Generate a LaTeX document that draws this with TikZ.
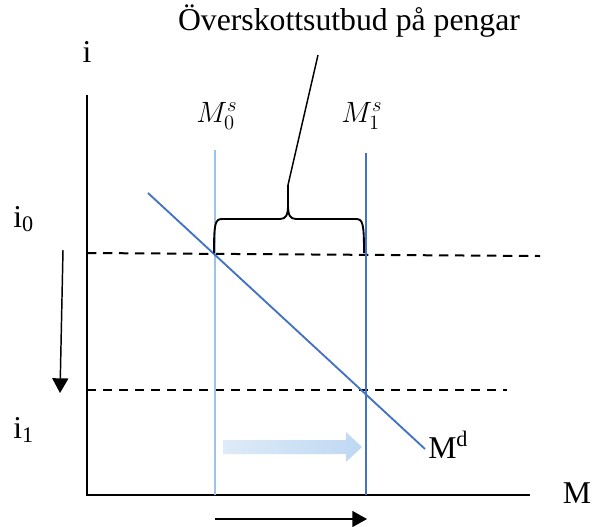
\RequirePackage{fix-cm}
\documentclass[tikz,border=0pt]{standalone}
\usepackage{fontspec}
\setmainfont{Liberation Serif}
\usepackage{xcolor}
\definecolor{supplylight}{RGB}{157,195,230}
\definecolor{moneyblue}{RGB}{68,114,196}
\definecolor{shiftlight}{RGB}{222,235,248}
\definecolor{shiftdark}{RGB}{190,216,242}
\usepackage{tikz}
\usetikzlibrary{arrows.meta, calc}

\begin{document}
\begin{tikzpicture}[
  x=0.75pt, y=-0.75pt,
  axis/.style={line width=1.5pt, draw=black},
  level/.style={line width=1.5pt, draw=black, dash pattern=on 7pt off 5pt},
  supplyold/.style={line width=1.4pt, draw=supplylight},
  supplynew/.style={line width=1.4pt, draw=moneyblue},
  demand/.style={line width=1.4pt, draw=moneyblue},
  bracket/.style={line width=1.4pt, draw=black},
  move/.style={-{Triangle[length=11pt, width=12pt]}, line width=1.1pt},
  lbl/.style={inner sep=0pt, font=\fontsize{23.8}{28}\selectfont},
  mlbl/.style={inner sep=0pt, font=\fontsize{22}{26}\selectfont}
]
\useasboundingbox (0,0) rectangle (592,526);

% Axes
\coordinate (ytop) at (87,95);
\coordinate (orig) at (87,495);
\coordinate (xend) at (530,495);
\draw[axis] (ytop) -- (orig) -- (xend);

\node[lbl, anchor=base] (ilab) at (87,62) {i};
\node[lbl, anchor=base] (mlab) at (577,503) {M};
\node[lbl, anchor=base west] (izero) at (13,227) {i\textsubscript{0}};
\node[lbl, anchor=base west] (ione) at (13,438) {i\textsubscript{1}};

% Interest levels
\coordinate (hz0a) at (87,253);
\coordinate (hz0b) at (540,256);
\coordinate (hz1a) at (87,390);
\coordinate (hz1b) at (507,390);
\draw[level] (hz0a) -- (hz0b);
\draw[level] (hz1a) -- (hz1b);

% Money supply
\coordinate (s0top) at (215,150);
\coordinate (s0bot) at (215,495);
\coordinate (s1top) at (366,153);
\coordinate (s1bot) at (366,495);
\draw[supplyold] (s0top) -- (s0bot);
\draw[supplynew] (s1top) -- (s1bot);
\node[mlbl, anchor=base west] (mszero) at (196,122) {$M_0^s$};
\node[mlbl, anchor=base west] (msone) at (341,122) {$M_1^s$};

% Money demand
\coordinate (dstart) at (148,193);
\coordinate (dend) at (425,449);
\draw[demand] (dstart) -- (dend);
\node[lbl, anchor=base west] (mdlab) at (428,458) {M\textsuperscript{d}};

% Excess supply
\coordinate (bleft) at (214,253);
\coordinate (bright) at (364,253);
\coordinate (btip) at (288,185);
\coordinate (ptr) at (318,55);
\draw[bracket] (bleft) .. controls (214,224) and (215,219) .. (222,219) -- (280,219)
  .. controls (286,219) and (288,215) .. (288,205) -- (btip) -- (288,205)
  .. controls (288,215) and (290,219) .. (296,219) -- (356,219)
  .. controls (363,219) and (364,224) .. (bright);
\draw[line width=1.1pt] (btip) -- (ptr);
\node[lbl, anchor=base] (excess) at (349,30) {Överskottsutbud på pengar};

% Shift
\shade[left color=shiftlight, right color=shiftdark]
  (223,440) -- (346,440) -- (346,432) -- (362,447) -- (346,462) -- (346,454) -- (223,454) -- cycle;

% Movements
\coordinate (ihigh) at (63,250);
\coordinate (ilow) at (60,393);
\coordinate (mlow) at (215,519);
\coordinate (mhigh) at (367,519);
\draw[move] (ihigh) -- (ilow);
\draw[move] (mlow) -- (mhigh);

\end{tikzpicture}
\end{document}
